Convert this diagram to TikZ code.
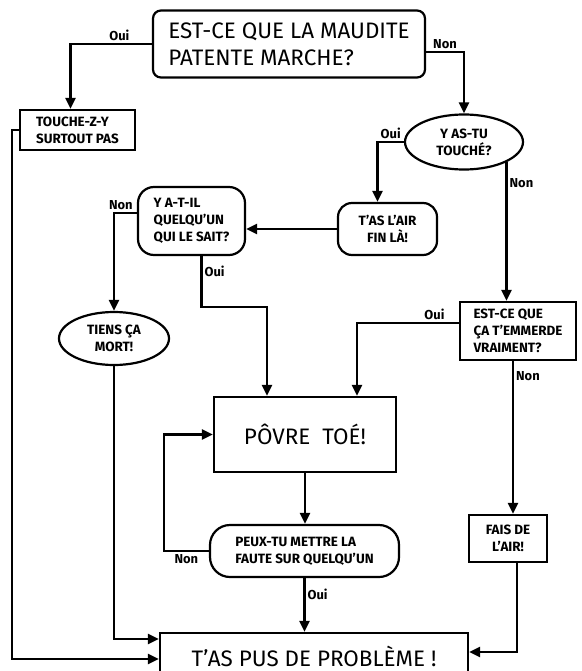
\documentclass[tikz,border=0pt]{standalone}
\usepackage{fontspec}
\setmainfont{Fira Sans}
\usetikzlibrary{shapes.geometric,arrows.meta}

\begin{document}
\begin{tikzpicture}[
    x=1bp, y=-1bp,
    base/.style={draw, line width=2.2bp, inner sep=2bp, font=\bfseries\fontsize{13.5}{17}\selectfont},
    box/.style={base, rectangle},
    roundbox/.style={base, rectangle, rounded corners=#1},
    oval/.style={base, ellipse, inner sep=0pt},
    big/.style={font=\fontsize{22.5}{27}\selectfont},
    lbl/.style={font=\bfseries\fontsize{13}{15}\selectfont, inner sep=2bp},
    arrow/.style={-{Triangle[length=11bp, width=10bp]}, line width=2.2bp}
]
\useasboundingbox[fill=white] (0,0) rectangle (582,671);

% questions and answers
\node[roundbox=8bp, big, align=left, minimum width=272bp, minimum height=67bp] (marche) at (289,44) {EST-CE QUE LA MAUDITE\\PATENTE MARCHE?};
\node[box, align=left, minimum width=115bp, minimum height=40bp] (touchepas) at (77.5,130) {TOUCHE-Z-Y\\SURTOUT PAS};
\node[oval, align=center, minimum width=118bp, minimum height=55bp] (touche) at (464,142) {Y AS-TU\\TOUCHÉ?};
\node[roundbox=14bp, align=center, minimum width=99bp, minimum height=52bp] (fin) at (387.5,229) {T'AS L'AIR\\FIN LÀ!};
\node[roundbox=16bp, align=left, minimum width=107bp, minimum height=68bp] (sait) at (191.5,221) {Y A-T-IL\\QUELQU'UN\\QUI LE SAIT?};
\node[oval, align=center, minimum width=110bp, minimum height=53bp] (mort) at (114,338.5) {TIENS ÇA\\MORT!};
\node[box, align=left, minimum width=116bp, minimum height=58bp] (emmerde) at (518,331) {EST-CE QUE\\ÇA T'EMMERDE\\VRAIMENT?};
\node[box, big, minimum width=182bp, minimum height=75bp] (povre) at (305,434.5) {PÔVRE\ \ TOÉ!};
\node[roundbox=20bp, align=left, minimum width=189bp, minimum height=52bp] (faute) at (304.5,551) {PEUX-TU METTRE LA\\FAUTE SUR QUELQU'UN};
\node[box, align=center, minimum width=78bp, minimum height=47bp] (fais) at (508,538.5) {FAIS DE\\L'AIR!};
\node[box, big, minimum width=308bp, minimum height=46bp] (fini) at (314,656) {T'AS PUS DE PROBLÈME !};

\coordinate (j1) at (267,307);

% connectors
\draw[arrow] (marche.west) -| node[lbl, above, pos=0.2] {Oui} ([xshift=-7bp]touchepas.north);
\draw[arrow] ([yshift=-8bp]marche.east) -| node[lbl, above, pos=0.25] {Non} (touche.north);
\draw[arrow] (touche.west) -| node[lbl, above, pos=0.25] {Oui} ([xshift=-10bp]fin.north);
\draw[arrow] (touche.south east) -- node[lbl, right, pos=0.15] {Non} (touche.south east |- emmerde.north);
\draw[arrow] (fin.west) -- (fin.west -| sait.east);
\draw[arrow] ([yshift=8bp]sait.west) -| node[lbl, above, pos=0.35] {Non} (mort.north);
\draw[arrow] ([xshift=10bp]sait.south) |- node[lbl, right, pos=0.15] {Oui} (j1) -- (j1 |- povre.north);
\draw[arrow] ([yshift=8bp]emmerde.west) -| node[lbl, above, pos=0.12] {Oui} ([xshift=52bp]povre.north);
\draw[arrow] ([xshift=-5bp]emmerde.south) -- node[lbl, right, pos=0.1] {Non} ([xshift=-5bp]emmerde.south |- fais.north);
\draw[arrow] (povre.south) -- (povre.south |- faute.north);
\draw[arrow] (faute.west) -- node[lbl, below] {Non} ++(-45,0) |- (povre.west);
\draw[arrow] (faute.south) -- node[lbl, right, pos=0.3] {Oui} (faute.south |- fini.north);
\draw[arrow] (touchepas.west) -- ++(-7,0) |- ([yshift=-3bp]fini.west);
\draw[arrow] (mort.south) |- ([yshift=17bp]fini.west);
\draw[arrow] ([xshift=9bp]fais.south) |- ([yshift=4bp]fini.east);
\end{tikzpicture}
\end{document}
